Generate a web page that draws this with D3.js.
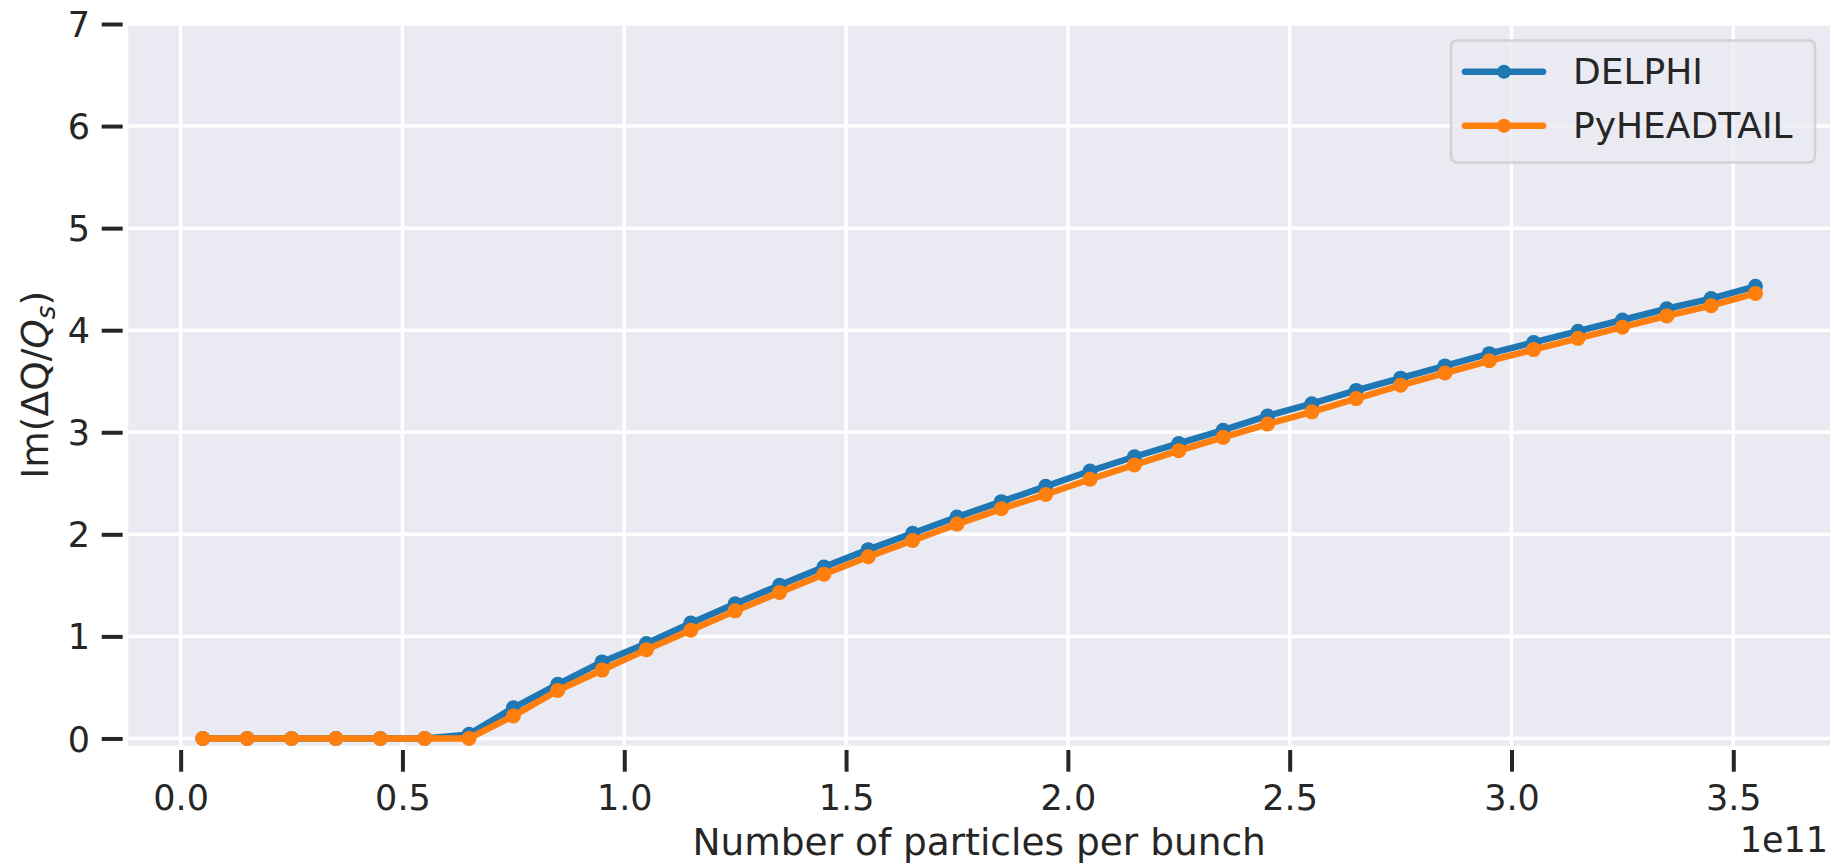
<!DOCTYPE html>
<html>
<head>
<meta charset="utf-8">
<script src="https://cdn.jsdelivr.net/npm/d3@7"></script>
<style>
  html, body { margin: 0; padding: 0; background: #ffffff; }
  svg { display: block; }
  text { font-family: "DejaVu Sans", sans-serif; fill: #262626; }
</style>
</head>
<body>
<svg id="chart" width="1834" height="864"></svg>
<script>
// Bunch intensity (units of 1e11 particles)
const intensity = [0.05, 0.15, 0.25, 0.35, 0.45, 0.55, 0.65, 0.75, 0.85, 0.95,
                   1.05, 1.15, 1.25, 1.35, 1.45, 1.55, 1.65, 1.75, 1.85, 1.95,
                   2.05, 2.15, 2.25, 2.35, 2.45, 2.55, 2.65, 2.75, 2.85, 2.95,
                   3.05, 3.15, 3.25, 3.35, 3.45, 3.55];

// Growth rate Im(dQ/Qs) from DELPHI
const delphi = [0, 0, 0, 0, 0, 0, 0.04, 0.30, 0.53, 0.75,
                0.93, 1.13, 1.32, 1.50, 1.68, 1.85, 2.01, 2.17, 2.32, 2.47,
                2.62, 2.76, 2.89, 3.02, 3.16, 3.28, 3.41, 3.53, 3.65, 3.77,
                3.88, 3.99, 4.10, 4.21, 4.31, 4.43];

// Growth rate Im(dQ/Qs) from PyHEADTAIL
const pyheadtail = [0, 0, 0, 0, 0, 0, 0, 0.22, 0.47, 0.67,
                    0.87, 1.06, 1.25, 1.43, 1.61, 1.78, 1.94, 2.10, 2.25, 2.39,
                    2.54, 2.68, 2.82, 2.95, 3.08, 3.20, 3.33, 3.46, 3.58, 3.70,
                    3.81, 3.92, 4.03, 4.14, 4.24, 4.36];

const seriesNames = ["DELPHI", "PyHEADTAIL"];
const seriesColors = ["#1f77b4", "#ff7f0e"];

const xTickValues = [0.0, 0.5, 1.0, 1.5, 2.0, 2.5, 3.0, 3.5];
const yTickValues = [0, 1, 2, 3, 4, 5, 6, 7];

const xLabel = "Number of particles per bunch";
const offsetLabel = "1e11";

const svg = d3.select("#chart");
const FS_TICK = 35;
const FS_LEGEND = 36;
const FS_LABEL = 37.5;

const plot = { left: 128.3, right: 1830, top: 24, bottom: 745.6 };

const x = d3.scaleLinear().domain([-0.118, 3.718]).range([plot.left, plot.right]);
const y = d3.scaleLinear().domain([-0.07, 7]).range([plot.bottom, plot.top]);

// plot background
svg.append("rect")
  .attr("x", plot.left).attr("y", plot.top)
  .attr("width", plot.right - plot.left).attr("height", plot.bottom - plot.top)
  .attr("fill", "#eaeaf2");

// grid
const grid = svg.append("g");
grid.selectAll("line.gx").data(xTickValues).join("line")
  .attr("x1", d => x(d)).attr("x2", d => x(d))
  .attr("y1", plot.top).attr("y2", plot.bottom)
  .attr("stroke", "#ffffff").attr("stroke-width", 3.5);
grid.selectAll("line.gy").data(yTickValues).join("line")
  .attr("y1", d => y(d)).attr("y2", d => y(d))
  .attr("x1", plot.left).attr("x2", plot.right)
  .attr("stroke", "#ffffff").attr("stroke-width", 3.5);

// axes
const xAxis = d3.axisBottom(x).tickValues(xTickValues).tickFormat(d3.format(".1f"))
  .tickSize(21.7).tickSizeOuter(0).tickPadding(13.4);
const gx = svg.append("g").attr("transform", "translate(0,750)").call(xAxis);

const yAxis = d3.axisLeft(y).tickValues(yTickValues).tickFormat(d3.format("d"))
  .tickSize(21).tickSizeOuter(0).tickPadding(11.7);
const gy = svg.append("g").attr("transform", "translate(122.7,0)").call(yAxis);

[gx, gy].forEach(g => {
  g.select(".domain").remove();
  g.selectAll(".tick line").attr("stroke", "#262626").attr("stroke-width", 4);
  g.selectAll(".tick text")
    .attr("fill", "#262626")
    .style("font-family", "'DejaVu Sans', sans-serif")
    .style("font-size", FS_TICK + "px");
});
gy.selectAll(".tick text").attr("dy", "0.36em");

// x label and offset text
svg.append("text")
  .attr("x", (plot.left + plot.right) / 2).attr("y", 855)
  .attr("text-anchor", "middle").style("font-size", FS_LABEL + "px")
  .text(xLabel);
svg.append("text")
  .attr("x", plot.right - 2).attr("y", 852)
  .attr("text-anchor", "end").style("font-size", FS_TICK + "px")
  .text(offsetLabel);

// y label: Im(ΔQ/Q_s)
const yl = svg.append("text")
  .attr("transform", `translate(48,${(plot.top + plot.bottom) / 2}) rotate(-90)`)
  .attr("text-anchor", "middle").style("font-size", FS_LABEL + "px");
yl.append("tspan").text("Im(ΔQ/");
yl.append("tspan").style("font-style", "italic").text("Q");
yl.append("tspan").style("font-style", "italic").style("font-size", (FS_LABEL * 0.7) + "px")
  .attr("dy", 7).text("s");
yl.append("tspan").attr("dy", -7).text(")");

// data lines
const series = [delphi, pyheadtail];
const line = d3.line().x((d, i) => x(intensity[i])).y(d => y(d));
series.forEach((vals, k) => {
  const g = svg.append("g");
  g.append("path").datum(vals)
    .attr("d", line)
    .attr("fill", "none")
    .attr("stroke", seriesColors[k])
    .attr("stroke-width", 6.5)
    .attr("stroke-linejoin", "round")
    .attr("stroke-linecap", "round");
  g.selectAll("circle").data(vals).join("circle")
    .attr("cx", (d, i) => x(intensity[i]))
    .attr("cy", d => y(d))
    .attr("r", 7.5)
    .attr("fill", seriesColors[k]);
});

// legend
const lg = svg.append("g");
lg.append("rect")
  .attr("x", 1451).attr("y", 40.5)
  .attr("width", 364).attr("height", 122)
  .attr("rx", 6).attr("ry", 6)
  .attr("fill", "rgba(234,234,242,0.8)")
  .attr("stroke", "rgba(204,204,204,0.85)")
  .attr("stroke-width", 2.5);
seriesNames.forEach((name, k) => {
  const ly = 71.7 + k * 54;
  lg.append("line")
    .attr("x1", 1465).attr("x2", 1543).attr("y1", ly).attr("y2", ly)
    .attr("stroke", seriesColors[k]).attr("stroke-width", 6.5)
    .attr("stroke-linecap", "round");
  lg.append("circle")
    .attr("cx", 1504).attr("cy", ly).attr("r", 7)
    .attr("fill", seriesColors[k]);
  lg.append("text")
    .attr("x", 1573).attr("y", ly + 12.5)
    .style("font-size", FS_LEGEND + "px")
    .text(name);
});
</script>
</body>
</html>
